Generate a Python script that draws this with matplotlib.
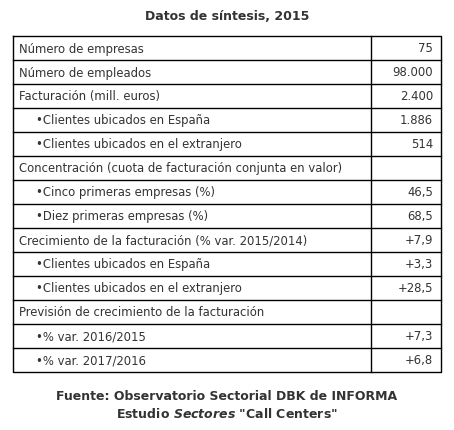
import matplotlib.pyplot as plt

title = "Datos de síntesis, 2015"
labels = [
    "Número de empresas",
    "Número de empleados",
    "Facturación (mill. euros)",
    "•Clientes ubicados en España",
    "•Clientes ubicados en el extranjero",
    "Concentración (cuota de facturación conjunta en valor)",
    "•Cinco primeras empresas (%)",
    "•Diez primeras empresas (%)",
    "Crecimiento de la facturación (% var. 2015/2014)",
    "•Clientes ubicados en España",
    "•Clientes ubicados en el extranjero",
    "Previsión de crecimiento de la facturación",
    "•% var. 2016/2015",
    "•% var. 2017/2016",
]
values = ["75", "98.000", "2.400", "1.886", "514", "", "46,5", "68,5",
          "+7,9", "+3,3", "+28,5", "", "+7,3", "+6,8"]

W, H = 454, 431
fig = plt.figure(figsize=(W / 100, H / 100), dpi=100)
ax = fig.add_axes([0, 0, 1, 1])
ax.set_xlim(0, W)
ax.set_ylim(H, 0)
ax.axis("off")

txt = "#333333"
left, right, mid = 13, 441, 371
top, rh = 37, 24
n = len(labels)
bottom = top + n * rh

ax.text(W / 2, 17, title, ha="center", va="center", fontsize=9,
        fontweight="bold", color=txt)

ax.plot([left, right, right, left, left], [top, top, bottom, bottom, top],
        color="black", lw=1)
ax.plot([mid, mid], [top, bottom], color="black", lw=1)
for i in range(1, n):
    y = top + i * rh
    ax.plot([left, right], [y, y], color="black", lw=1)

for i, (lab, val) in enumerate(zip(labels, values)):
    yc = top + i * rh + rh / 2
    x = left + (23 if lab.startswith("•") else 6)
    ax.text(x, yc, lab, ha="left", va="center", fontsize=8.4, color=txt)
    ax.text(right - 8, yc, val, ha="right", va="center", fontsize=8.4, color=txt)

ax.text(W / 2, 397, "Fuente: Observatorio Sectorial DBK de INFORMA",
        ha="center", va="center", fontsize=9, fontweight="bold", color=txt)
ax.text(W / 2, 414, r'Estudio $\mathbfit{Sectores}$ "Call Centers"',
        ha="center", va="center", fontsize=9, fontweight="bold", color=txt)

fig.savefig("out.png", dpi=100)
